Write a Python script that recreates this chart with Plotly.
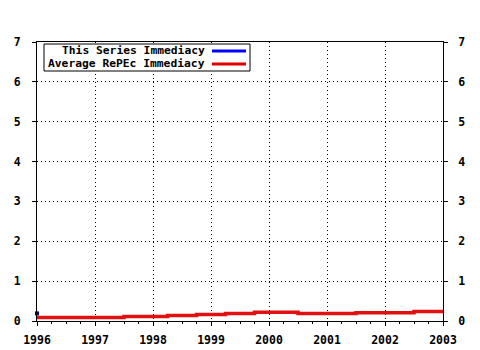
import plotly.graph_objects as go

# Data
avg_x = [1996, 1997.5, 1998.25, 1998.75, 1999.25, 1999.75, 2000.5, 2001.5, 2002.5, 2003]
avg_y = [0.09, 0.11, 0.14, 0.16, 0.19, 0.22, 0.19, 0.21, 0.24, 0.24]
series_x = [1996]
series_y = [0.19]
x_ticks = [1996, 1997, 1998, 1999, 2000, 2001, 2002, 2003]
y_ticks = [0, 1, 2, 3, 4, 5, 6, 7]
legend_labels = ["This Series Immediacy", "Average RePEc Immediacy"]
legend_colors = ["#0000ff", "#e00000"]

W, H = 480, 350
L, R, T, B = 37, 443, 42, 321

font = dict(family="DejaVu Sans Mono", size=11.5, color="black", weight="bold")
legend_font = dict(family="DejaVu Sans Mono", size=11.3, color="black", weight="bold")

fig = go.Figure()
fig.add_trace(go.Scatter(x=avg_x, y=avg_y, mode="lines", line=dict(color="#e21010", width=3.5, shape="hv"),
                         showlegend=False, hoverinfo="skip"))
fig.add_trace(go.Scatter(x=series_x, y=series_y, mode="markers", cliponaxis=False,
                         marker=dict(color="#000080", size=4, symbol="square"),
                         showlegend=False, hoverinfo="skip"))
# invisible trace for right axis
fig.add_trace(go.Scatter(x=[1996], y=[0], yaxis="y2", mode="markers", marker=dict(opacity=0),
                         showlegend=False, hoverinfo="skip"))

axis_common = dict(showline=True, linecolor="black", linewidth=1, gridcolor="black", griddash="1px,3px",
                   gridwidth=1, zeroline=False, tickfont=font, ticks="outside", ticklen=4,
                   tickcolor="black", automargin=False)

fig.update_layout(
    width=W, height=H,
    margin=dict(l=L, r=W - R, t=T, b=H - B),
    paper_bgcolor="white", plot_bgcolor="white",
    showlegend=False,
    xaxis=dict(range=[1996, 2003], tickvals=x_ticks, ticktext=[str(v) for v in x_ticks],
               mirror=True, ticklabelstandoff=4,
               minor=dict(dtick=0.25, tick0=1996, ticks="outside", ticklen=2,
                          tickcolor="black", showgrid=False),
               **axis_common),
    yaxis=dict(range=[0, 7], tickvals=y_ticks, ticktext=[str(v) for v in y_ticks], mirror=True,
               ticklabelstandoff=9, **axis_common),
    yaxis2=dict(range=[0, 7], tickvals=y_ticks, ticktext=[str(v) for v in y_ticks], overlaying="y",
                side="right", showgrid=False, showline=True, linecolor="black", zeroline=False,
                tickfont=font, ticks="outside", ticklen=4, tickcolor="black", automargin=False,
                ticklabelstandoff=8),
)

def px(xp):
    return (xp - L) / (R - L)

def py(yp):
    return (B - yp) / (B - T)

# Legend box
fig.add_shape(type="rect", xref="paper", yref="paper", x0=px(44), x1=px(250), y0=py(71), y1=py(44),
              line=dict(color="black", width=1), fillcolor="white", layer="above")
rows_y = [51, 64]
for lab, col, yy in zip(legend_labels, legend_colors, rows_y):
    fig.add_annotation(x=px(206), y=py(yy), xref="paper", yref="paper", text=lab, showarrow=False,
                       xanchor="right", yanchor="middle", font=legend_font, borderpad=0)
    fig.add_shape(type="line", xref="paper", yref="paper", x0=px(212), x1=px(246), y0=py(yy), y1=py(yy),
                  line=dict(color=col, width=3), layer="above")

fig.write_html("out.html")
